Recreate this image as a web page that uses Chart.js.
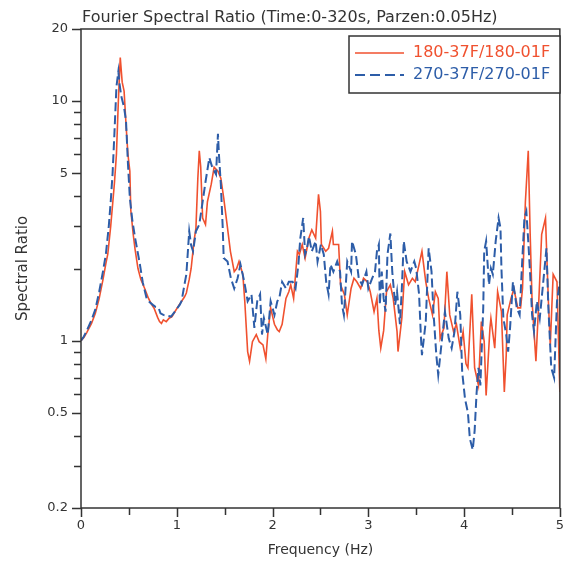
<!DOCTYPE html>
<html>
<head>
<meta charset="utf-8">
<script src="https://cdn.jsdelivr.net/npm/chart.js@4.4.1/dist/chart.umd.min.js"></script>
<style>
  html, body { margin: 0; padding: 0; background: #ffffff; }
  #wrap { width: 565px; height: 562px; }
</style>
</head>
<body>
<div id="wrap"><canvas id="c" width="565" height="562"></canvas></div>
<script>
const chartTitle = 'Fourier Spectral Ratio (Time:0-320s, Parzen:0.05Hz)';
const seriesNames = ['180-37F/180-01F', '270-37F/270-01F'];
const xTitle = 'Frequency (Hz)';
const yTitle = 'Spectral Ratio';

const redFreq = [0,0.03,0.06,0.11,0.15,0.19,0.23,0.26,0.28,0.31,0.33,0.35,0.37,0.39,0.41,0.43,0.45,0.47,0.49,0.51,0.52,0.545,0.565,0.595,0.625,0.665,0.705,0.735,0.765,0.80,0.82,0.84,0.86,0.89,0.92,0.95,0.98,1.02,1.05,1.08,1.10,1.13,1.15,1.18,1.20,1.22,1.235,1.25,1.27,1.30,1.32,1.36,1.39,1.43,1.46,1.49,1.53,1.56,1.60,1.625,1.65,1.69,1.71,1.74,1.76,1.79,1.83,1.86,1.90,1.93,1.95,1.98,2.02,2.05,2.07,2.10,2.14,2.17,2.19,2.22,2.26,2.28,2.31,2.34,2.38,2.41,2.45,2.48,2.50,2.51,2.555,2.585,2.625,2.635,2.69,2.71,2.75,2.78,2.82,2.85,2.88,2.92,2.95,2.99,3.02,3.06,3.09,3.11,3.13,3.16,3.19,3.23,3.26,3.30,3.31,3.35,3.38,3.42,3.46,3.49,3.53,3.56,3.60,3.63,3.67,3.70,3.73,3.75,3.79,3.82,3.85,3.89,3.92,3.96,3.99,4.02,4.04,4.08,4.11,4.15,4.18,4.21,4.23,4.27,4.28,4.32,4.35,4.39,4.42,4.44,4.45,4.49,4.52,4.56,4.59,4.61,4.64,4.67,4.69,4.71,4.75,4.78,4.81,4.85,4.88,4.90,4.93,4.97,5.00];
const redRatio = [1.00,1.03,1.08,1.18,1.30,1.50,1.80,2.10,2.30,3.0,3.7,4.6,6.0,10.0,15.2,12.0,11.0,8.0,6.0,5.1,3.5,2.78,2.4,2.0,1.8,1.65,1.5,1.42,1.36,1.25,1.20,1.18,1.22,1.20,1.24,1.26,1.32,1.40,1.46,1.52,1.58,1.80,2.0,2.6,2.95,4.77,6.2,5.3,3.25,3.05,3.8,4.5,5.3,5.1,4.77,3.94,2.95,2.36,1.94,2.0,2.14,1.89,1.46,0.90,0.82,0.99,1.06,0.99,0.96,0.84,1.06,1.37,1.17,1.11,1.09,1.17,1.5,1.6,1.71,1.5,2.36,2.29,2.52,2.21,2.68,2.9,2.68,4.08,3.46,2.52,2.36,2.43,2.86,2.52,2.52,1.71,1.56,1.28,1.65,1.82,1.76,1.65,1.82,1.76,1.6,1.32,1.5,1.10,0.93,1.10,1.6,1.71,1.5,1.09,0.90,1.24,1.94,1.71,1.82,1.76,2.08,2.36,1.76,1.5,1.28,1.6,1.5,1.02,1.13,1.94,1.28,1.09,1.17,0.93,1.09,0.80,0.77,1.56,0.77,0.65,1.2,0.99,0.59,1.13,1.24,0.93,1.6,1.32,0.61,0.87,1.28,1.5,1.65,1.37,1.37,1.65,3.8,6.2,2.78,1.46,0.82,1.46,2.78,3.25,1.46,0.96,1.89,1.76,0.61];

const blueFreq = [0,0.03,0.06,0.11,0.15,0.19,0.23,0.26,0.29,0.31,0.33,0.35,0.37,0.39,0.40,0.42,0.45,0.47,0.49,0.51,0.535,0.565,0.615,0.645,0.685,0.715,0.75,0.78,0.81,0.83,0.86,0.90,0.94,0.98,1.03,1.05,1.08,1.10,1.13,1.15,1.17,1.20,1.235,1.27,1.30,1.34,1.37,1.41,1.43,1.44,1.46,1.48,1.49,1.53,1.565,1.60,1.635,1.665,1.705,1.74,1.78,1.81,1.84,1.87,1.89,1.91,1.95,1.98,2.02,2.05,2.07,2.10,2.14,2.17,2.21,2.24,2.27,2.29,2.32,2.34,2.36,2.38,2.41,2.45,2.47,2.505,2.535,2.56,2.585,2.605,2.635,2.675,2.705,2.725,2.745,2.78,2.82,2.83,2.87,2.90,2.935,2.98,3.00,3.04,3.07,3.09,3.11,3.12,3.14,3.16,3.18,3.20,3.23,3.25,3.28,3.30,3.33,3.35,3.37,3.40,3.44,3.48,3.50,3.53,3.55,3.56,3.60,3.63,3.66,3.68,3.71,3.73,3.77,3.80,3.84,3.87,3.90,3.93,3.96,3.98,4.01,4.04,4.06,4.09,4.11,4.13,4.15,4.17,4.20,4.21,4.23,4.26,4.28,4.30,4.33,4.36,4.38,4.39,4.41,4.44,4.46,4.48,4.51,4.53,4.55,4.58,4.60,4.63,4.65,4.67,4.69,4.71,4.73,4.76,4.79,4.82,4.86,4.88,4.91,4.94,4.97,5.00];
const blueRatio = [1.00,1.04,1.10,1.22,1.35,1.6,1.95,2.3,3.0,3.8,5.0,7.5,11.5,13.3,12.0,10.5,9.4,8.25,5.5,3.94,3.2,2.68,2.08,1.75,1.5,1.45,1.41,1.38,1.37,1.30,1.28,1.27,1.26,1.32,1.41,1.46,1.71,1.89,2.86,2.5,2.36,2.86,3.05,3.8,4.6,5.8,5.3,4.95,7.3,6.0,4.5,2.95,2.21,2.14,1.82,1.65,1.82,2.08,1.76,1.46,1.56,1.13,1.46,1.56,1.06,1.24,1.06,1.46,1.28,1.46,1.5,1.76,1.65,1.76,1.76,1.65,2.08,2.68,3.25,2.29,2.43,2.72,2.36,2.6,2.14,2.52,2.29,1.76,1.56,2.08,1.94,2.14,1.94,1.41,1.28,2.14,1.94,2.6,2.29,1.82,1.71,1.94,1.65,1.82,1.94,2.36,2.52,1.41,1.94,1.5,1.32,2.29,2.8,1.94,1.41,1.6,1.17,1.65,2.6,2.14,1.94,2.14,2.0,1.56,1.02,0.87,1.2,2.43,1.94,1.32,0.87,0.72,1.02,1.32,1.02,0.93,1.09,1.6,1.28,0.74,0.57,0.5,0.39,0.35,0.42,0.6,0.77,0.65,1.37,2.36,2.6,1.71,2.0,1.89,2.6,3.25,2.95,2.0,1.24,1.06,0.9,1.13,1.76,1.56,1.37,1.28,1.89,3.25,3.46,2.6,1.89,1.28,1.09,1.46,1.24,1.65,2.43,1.37,0.77,0.7,1.46,1.76];

const yTickValues = [0.2,0.3,0.4,0.5,0.6,0.7,0.8,0.9,1,2,3,4,5,6,7,8,9,10,20];
const yTickLabels = [0.2,0.5,1,5,10,20];
const xTickLabels = [0,1,2,3,4,5];

const RED = '#f0512f';
const BLUE = '#2d5da8';
const AXIS = '#333333';
const FONT = "'DejaVu Sans', 'Liberation Sans', Arial, sans-serif";

const decorPlugin = {
  id: 'decor',
  afterDraw(chart) {
    const ctx = chart.ctx;
    const a = chart.chartArea;
    const xs = chart.scales.x, ys = chart.scales.y;
    ctx.save();
    ctx.strokeStyle = AXIS;
    ctx.lineWidth = 1.5;
    ctx.strokeRect(a.left, a.top, a.right - a.left, a.bottom - a.top);
    ctx.beginPath();
    yTickValues.forEach(v => {
      const p = Math.round(ys.getPixelForValue(v)) + 0.5;
      const len = yTickLabels.includes(v) ? 9 : 7;
      ctx.moveTo(a.left - len, p);
      ctx.lineTo(a.left, p);
    });
    xs.ticks.forEach(t => {
      const p = Math.round(xs.getPixelForValue(t.value)) + 0.5;
      const len = Number.isInteger(t.value) ? 9 : 7;
      ctx.moveTo(p, a.bottom);
      ctx.lineTo(p, a.bottom + len);
    });
    ctx.stroke();
    // title
    ctx.fillStyle = AXIS;
    ctx.font = '16px ' + FONT;
    ctx.textAlign = 'left';
    ctx.textBaseline = 'middle';
    ctx.fillText(chartTitle, a.left + 1, 18);
    // legend box
    const bx = 349, by = 36, bw = 211, bh = 57;
    ctx.fillStyle = '#ffffff';
    ctx.fillRect(bx, by, bw, bh);
    ctx.strokeStyle = AXIS;
    ctx.lineWidth = 1.5;
    ctx.strokeRect(bx, by, bw, bh);
    const rows = [{c: RED, dash: [], y: 53, w: 1.6}, {c: BLUE, dash: [10, 5], y: 75, w: 2}];
    rows.forEach((r, i) => {
      ctx.beginPath();
      ctx.setLineDash(r.dash);
      ctx.strokeStyle = r.c;
      ctx.lineWidth = r.w;
      ctx.moveTo(355, r.y);
      ctx.lineTo(404, r.y);
      ctx.stroke();
      ctx.setLineDash([]);
      ctx.fillStyle = r.c;
      ctx.font = '16px ' + FONT;
      ctx.textBaseline = 'middle';
      ctx.fillText(seriesNames[i], 413, r.y);
    });
    ctx.restore();
  }
};

const toPts = (fs, vs) => fs.map((f, i) => ({x: f, y: vs[i]}));

new Chart(document.getElementById('c'), {
  type: 'line',
  data: {
    datasets: [
      { label: seriesNames[0], data: toPts(redFreq, redRatio), borderColor: RED, borderWidth: 1.6,
        pointRadius: 0, tension: 0, fill: false, order: 1 },
      { label: seriesNames[1], data: toPts(blueFreq, blueRatio), borderColor: BLUE, borderWidth: 2,
        borderDash: [9, 4], pointRadius: 0, tension: 0, fill: false, order: 0 }
    ]
  },
  options: {
    responsive: false,
    animation: false,
    devicePixelRatio: 1,
    layout: { padding: { top: 29, right: 0, left: 0, bottom: 0 } },
    plugins: { legend: { display: false }, title: { display: false }, tooltip: { enabled: false } },
    scales: {
      x: {
        type: 'linear', min: 0, max: 5,
        afterFit(s) { s.height = 54; },
        grid: { display: true, drawOnChartArea: false, drawTicks: true, tickLength: 9, color: 'rgba(0,0,0,0)' },
        border: { display: false },
        ticks: {
          stepSize: 0.5, autoSkip: false, maxRotation: 0, padding: 1,
          color: AXIS, font: { family: FONT, size: 13 },
          callback: v => xTickLabels.includes(v) ? String(v) : ''
        },
        title: { display: true, text: xTitle, color: AXIS, font: { family: FONT, size: 14 }, padding: { top: 0, bottom: 3 } }
      },
      y: {
        type: 'logarithmic', min: 0.2, max: 20,
        afterFit(s) { s.width = 81; },
        afterBuildTicks(s) { s.ticks = yTickValues.map(v => ({ value: v })); },
        grid: { display: true, drawOnChartArea: false, drawTicks: true, tickLength: 9, color: 'rgba(0,0,0,0)' },
        border: { display: false },
        ticks: {
          autoSkip: false, padding: 4,
          color: AXIS, font: { family: FONT, size: 13 },
          callback: v => yTickLabels.includes(v) ? String(v) : ''
        },
        title: { display: true, text: yTitle, color: AXIS, font: { family: FONT, size: 15 }, padding: { top: 14, bottom: 0 } }
      }
    }
  },
  plugins: [decorPlugin]
});
</script>
</body>
</html>
